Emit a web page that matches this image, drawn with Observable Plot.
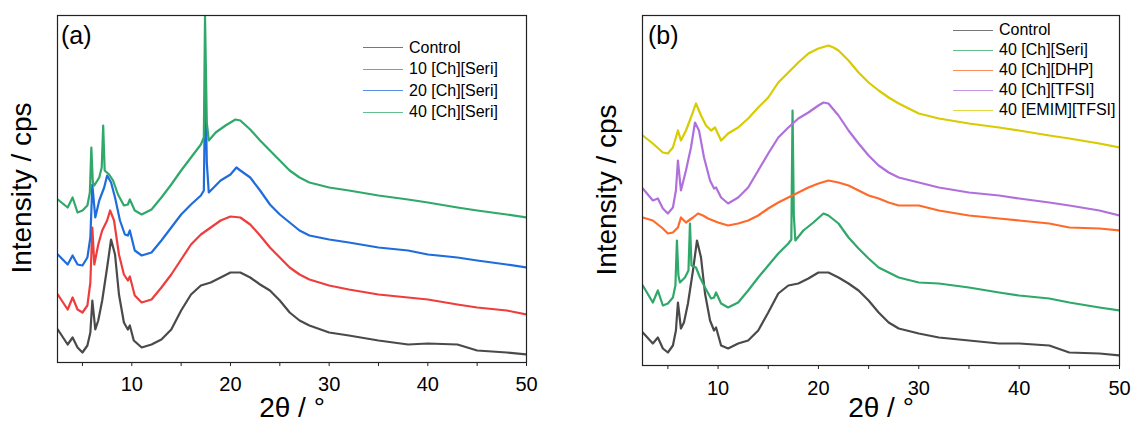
<!DOCTYPE html>
<html><head><meta charset="utf-8">
<script src="https://cdn.jsdelivr.net/npm/d3@7"></script>
<script src="https://cdn.jsdelivr.net/npm/@observablehq/plot@0.6"></script>
<style>
body{margin:0;background:#fff;font-family:"Liberation Sans",Arial,sans-serif;}
#wrap{position:relative;width:1131px;height:425px;overflow:hidden;background:#fff}
.panel{position:absolute;top:0;height:425px}
.ylab{position:absolute;font-size:28px;color:#000;transform:rotate(-90deg);transform-origin:center center;white-space:nowrap;width:260px;text-align:center;height:32px;line-height:32px}
.xlab{position:absolute;font-size:28px;color:#000;white-space:nowrap;text-align:center;width:200px;height:30px;line-height:30px}
.plab{position:absolute;font-size:25px;color:#000;line-height:30px}
.legend{position:absolute;font-size:16px;color:#000}
.legend .row{display:flex;align-items:center;white-space:nowrap}
.legend .sw{display:inline-block;width:40px;height:0;border-top:1.5px solid;margin-right:6px;opacity:.75}
</style>
</head><body>
<div id="wrap"></div>
<script>
// ---------- Panel (a) data: 2θ (deg) and intensity (arb., offset-stacked) ----------
const aControlX = [2.5,3.5,4,4.5,5,5.5,5.8,6,6.3,6.6,7,7.5,7.9,8.3,8.7,9.2,9.6,9.8,10.2,11,12,13,14,15,16,17,18,19,20,21,22,23,24,25,26,27,28,30,32,35,38,40,43,45,48,50];
const aControlY = [33,18,25,15,10,17,30,62,33,42,62,95,123,108,68,40,33,37,22,15,18,23,33,52,68,77,80,85,90,90,85,78,72,62,50,42,37,30,27,22,18,19,18,12,10,8];
const a10X = [2.5,3.5,4,4.5,5,5.5,5.8,6,6.2,6.6,7,7.5,7.8,8.2,8.7,9.2,9.6,9.8,10.3,11,12,13,14,15,16,17,18,19,20,21,22,23,24,25,26,27,28,30,32,35,38,40,43,45,48,50];
const a10Y = [68,53,65,53,50,57,80,135,98,118,132,142,152,142,108,88,82,86,67,60,63,75,88,103,118,128,135,142,146,145,138,127,115,105,95,88,83,77,73,68,65,63,58,55,52,48];
const a20X = [2.5,3.5,4,4.5,5,5.5,5.8,6,6.3,6.7,7.2,7.5,7.9,8.3,8.8,9.3,9.6,9.8,10.3,11,12,13,14,15,16,17,17.3,17.45,17.6,17.8,18.5,19,20,20.6,21,22,23,24,25,26,27,28,30,32,35,38,40,43,45,48,50];
const a20Y = [108,98,107,98,97,105,125,178,145,162,175,187,180,165,142,128,127,132,112,107,110,122,135,148,158,167,172,288,200,170,177,182,188,195,192,185,172,158,148,140,132,127,123,120,115,112,108,105,102,98,95];
const a40X = [2.5,3.5,4,4.5,5,5.5,5.75,5.9,6.05,6.2,6.7,6.95,7.1,7.25,7.7,8.1,8.6,9.2,9.6,9.8,10.3,11,12,13,14,15,16,17,17.3,17.42,17.6,17.8,18.5,19.5,20.5,21,22,23,24,25,26,27,28,30,32,35,38,40,43,45,48,50];
const a40Y = [163,155,165,150,152,157,170,215,180,177,185,195,237,192,188,182,168,157,158,163,152,148,153,165,178,192,205,218,225,346,240,222,230,237,243,242,233,222,212,202,192,185,180,175,172,167,163,160,155,152,148,145];
const aSeries = ["Control","10 [Ch][Seri]","20 [Ch][Seri]","40 [Ch][Seri]"];
const aColors = ["#4a4a4a","#ee3d3d","#1f6cdc","#2fa86a"];

// ---------- Panel (b) data ----------
const bControlX = [2.5,3.5,4,4.5,5,5.5,5.8,6,6.3,6.6,7,7.5,7.9,8.3,8.7,9.2,9.6,9.8,10.3,11,12,13,14,15,16,17,18,19,20,21,22,23,24,25,26,27,28,30,32,35,38,40,43,45,48,50];
const bControlY = [33,22,28,17,13,20,35,63,37,43,62,95,125,108,72,45,35,38,20,17,22,25,35,53,72,80,82,87,93,93,88,82,75,65,53,43,37,32,28,25,22,22,20,13,12,10];
const bSeriX = [2.5,3.5,4,4.5,5,5.5,5.75,5.9,6.05,6.2,6.7,7.05,7.2,7.35,7.8,8.2,8.7,9.3,9.6,9.8,10.3,11,12,13,14,15,16,17,17.3,17.42,17.55,17.7,18.5,19.5,20.5,21,22,23,24,25,26,27,28,30,32,35,38,40,43,45,48,50];
const bSeriY = [80,63,75,60,62,68,80,125,90,83,88,95,142,100,98,88,78,67,68,73,62,58,63,75,88,100,112,122,126,255,150,125,135,143,152,150,142,128,117,107,98,93,88,83,82,78,73,70,67,63,58,55];
const bDhpX = [2.5,3.5,4.5,5,5.5,6,6.3,6.8,7.5,8,8.5,9,10,11,12,13,14,15,16,17,18,19,20,21,22,23,24,25,26,27,28,30,32,35,38,40,43,45,48,50];
const bDhpY = [148,145,137,132,133,138,148,143,148,152,150,147,143,140,142,145,150,157,163,168,173,178,182,185,183,180,175,170,167,163,160,160,155,150,147,145,142,138,137,135];
const bTfsiX = [2.5,3.5,4,4.5,5,5.5,5.8,6,6.3,6.8,7.3,7.7,8.1,8.6,9.2,9.6,9.8,10.3,11,12,13,14,15,16,17,18,19,20,20.5,21,22,23,24,25,26,27,28,30,32,35,38,40,43,45,48,50];
const bTfsiY = [177,165,167,157,152,158,175,205,175,195,218,243,235,208,185,177,178,168,162,168,178,195,212,228,238,247,253,260,263,262,250,235,222,210,200,193,188,183,178,173,170,167,163,160,155,150];
const bEmimX = [2.5,3.5,4.5,5,5.5,6,6.3,6.8,7.3,7.8,8.3,8.8,9.3,9.7,10.3,11,12,13,14,15,16,17,18,19,20,21,21.5,22,23,24,25,26,27,28,30,32,35,38,40,43,45,48,50];
const bEmimY = [230,222,213,212,218,235,225,235,248,262,250,240,235,238,225,232,238,247,258,268,283,293,303,312,317,320,318,315,305,293,283,275,268,262,252,247,242,238,235,230,227,222,218];
const bSeries = ["Control","40 [Ch][Seri]","40 [Ch][DHP]","40 [Ch][TFSI]","40 [EMIM][TFSI]"];
const bColors = ["#4a4a4a","#2fa86a","#ff6a2a","#b070dc","#d8cb00"];

const xTicks = [5,10,15,20,25,30,35,40,45,50];

function rows(name, xs, ys){ return xs.map((x,i)=>({series:name, x, y:ys[i]})); }

const FONT = '"Liberation Sans", Arial, sans-serif';

function panel({data, series, colors, width, ml, mr, mt, mb, ymax, pad}){
  return Plot.plot({
    width, height:425,
    marginLeft:ml, marginRight:mr, marginTop:mt, marginBottom:mb,
    style:{fontFamily:FONT, fontSize:"20px", background:"transparent", color:"#000"},
    x:{domain:[2.47,50]},
    y:{domain:[0,ymax], axis:null},
    color:{domain:series, range:colors},
    marks:[
      Plot.line(data,{x:"x", y:"y", z:"series", stroke:"series", strokeWidth:2.2, strokeLinejoin:"round", curve:"linear", clip:true}),
      Plot.axisX({ticks:xTicks, tickSize:4, tickPadding:pad, tickFormat:d=>d%10===0?String(d):"", stroke:"#222", label:null, fontSize:20}),
      Plot.frame({stroke:"#222", strokeWidth:1.2})
    ]
  });
}

const wrap = document.getElementById("wrap");

// Panel (a)
const aData = [...rows(aSeries[0],aControlX,aControlY),...rows(aSeries[1],a10X,a10Y),...rows(aSeries[2],a20X,a20Y),...rows(aSeries[3],a40X,a40Y)];
const pa = panel({data:aData, series:aSeries, colors:aColors, width:565, ml:57, mr:39, mt:15, mb:63, ymax:347, pad:10});
const da = document.createElement("div"); da.className="panel"; da.style.left="0px"; da.style.width="565px"; da.appendChild(pa); wrap.appendChild(da);

// Panel (b)
const bData = [...rows(bSeries[0],bControlX,bControlY),...rows(bSeries[1],bSeriX,bSeriY),...rows(bSeries[2],bDhpX,bDhpY),...rows(bSeries[3],bTfsiX,bTfsiY),...rows(bSeries[4],bEmimX,bEmimY)];
const pb = panel({data:bData, series:bSeries, colors:bColors, width:565, ml:76, mr:12, mt:15, mb:60, ymax:350, pad:11});
const db = document.createElement("div"); db.className="panel"; db.style.left="566px"; db.style.width="565px"; db.appendChild(pb); wrap.appendChild(db);

// Overlays: axis titles, panel tags, legends
function add(cls, html, css){ const e=document.createElement("div"); e.className=cls; e.innerHTML=html; Object.assign(e.style, css); wrap.appendChild(e); return e; }
add("ylab","Intensity / cps",{left:(22-130)+"px", top:(188-16)+"px"});
add("ylab","Intensity / cps",{left:(607-130)+"px", top:(190-16)+"px"});
add("xlab","2θ / °",{left:(292-100)+"px", top:"393px"});
add("xlab","2θ / °",{left:(881-100)+"px", top:"393px"});
add("plab","(a)",{left:"61px", top:"20px"});
add("plab","(b)",{left:"648px", top:"20px"});

function legend(series, colors, left, top, rowH){
  const L = add("legend","",{left:left+"px", top:top+"px"});
  series.forEach((s,i)=>{
    const r=document.createElement("div"); r.className="row"; r.style.height=rowH+"px";
    r.innerHTML=`<span class="sw" style="border-color:${colors[i]}"></span><span>${s}</span>`;
    L.appendChild(r);
  });
}
legend(aSeries, aColors, 363, 37, 21.5);
legend(bSeries, bColors, 953, 20, 20);
</script>
</body></html>
